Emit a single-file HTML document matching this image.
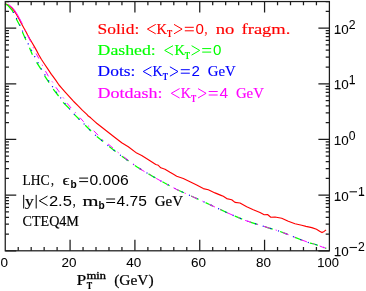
<!DOCTYPE html><html><head><meta charset="utf-8"><style>
html,body{margin:0;padding:0;background:#fff;}
svg{display:block;position:absolute;left:0;top:0;will-change:transform;opacity:0.999}
text{font-family:"Liberation Serif",serif;}
.n{font-family:"Liberation Sans",sans-serif;}
</style></head><body>
<svg width="366" height="291" viewBox="0 0 366 291">
<rect width="366" height="291" fill="#fff"/>
<path d="M5.0,3.7 L5.8,4.0 L8.2,5.1 L10.3,6.6 L12.4,8.7 L14.4,11.2 L16.5,14.5 L18.9,18.8 L21.4,23.5 L24.0,28.2 L26.5,32.7 L27.6,35.0 L29.9,39.1 L32.4,43.2 L34.8,47.4 L37.3,51.9 L38.9,55.0 L41.5,59.5 L44.8,64.5 L48.1,69.4 L51.4,74.4 L52.4,75.7 L55.7,80.2 L59.0,85.0 L61.7,88.1 L65.2,92.1 L69.3,96.7 L73.4,101.2 L74.2,102.0 L78.4,106.1 L82.5,110.4 L86.6,114.2 L88.3,116.0 L90.7,117.8 L95.7,122.4 L96.7,123.3 L105.0,129.7 L113.3,136.3 L121.7,142.7 L128.3,146.7 L136.7,153.1 L141.7,155.5 L150.0,160.8 L155.8,164.5 L158.3,165.3 L160.8,167.8 L165.0,169.2 L170.0,172.3 L173.5,174.3 L176.7,176.2 L183.3,178.5 L190.0,181.7 L196.7,185.0 L203.3,188.6 L208.3,189.8 L215.0,192.9 L221.0,195.4 L223.3,196.3 L226.7,198.6 L231.7,199.7 L235.0,202.4 L240.0,203.0 L246.7,206.7 L253.3,209.7 L260.0,212.5 L264.2,214.7 L267.5,214.5 L270.8,217.2 L275.0,217.0 L281.7,218.3 L288.3,221.3 L295.0,223.7 L301.7,225.3 L306.0,226.4 L311.8,227.6 L316.5,229.3 L320.0,231.4 L322.0,232.6 L324.1,231.4 L326.1,229.9" fill="none" stroke="#ff0000" stroke-width="1.15" stroke-linejoin="round"/>
<path d="M5.0,3.7 L8.2,5.8 L12.4,10.7 L13.2,12.4 M16.2,18.7 L19.9,25.7 M22.4,32.0 L25.6,39.2 L26.0,40.0 M29.5,47.8 L32.4,54.8 M36.6,62.4 L41.1,69.4 M44.6,75.8 L49.1,82.7 M53.2,89.2 L58.6,96.0 M63.1,102.4 L69.5,108.8 M74.2,114.4 L79.2,119.3 M85.2,125.2 L90.0,130.0 L91.1,131.0 M96.8,136.4 L103.1,141.5 M109.2,146.4 L113.3,149.7 L115.6,151.5 M121.8,156.3 L128.3,160.8 L128.5,161.0 M134.9,165.5 L136.7,166.8 L141.8,169.9 M148.5,173.9 L153.3,176.7 L155.6,178.0 M162.4,181.8 L168.3,185.0 L169.6,185.7 M176.5,189.4 L176.7,189.5 L184.0,192.7 M191.1,196.0 L193.3,197.0 L198.5,199.4 M205.6,202.6 L210.0,204.7 L213.0,206.1 M220.1,209.4 L226.7,212.5 L227.5,212.9 M234.7,216.1 L235.0,216.2 L242.2,219.2 M249.6,221.9 L251.7,222.6 L257.4,224.4 M264.8,226.7 L268.3,227.8 L272.7,229.1 M280.1,231.5 L285.0,233.3 L287.7,234.4 M295.0,237.4 L301.7,240.0 L302.6,240.3 M309.9,243.1 L310.1,243.2 L314.2,244.0 L317.8,245.3 M325.1,248.0 L326.3,248.4" fill="none" stroke="#00ff00" stroke-width="1.25"/>
<path d="M13.3,12.0 L13.6,12.4 L13.8,12.9 M16.4,18.0 L16.6,18.5 L16.8,19.0 M19.7,24.6 L19.9,25.1 L20.1,25.6 M22.3,30.6 L22.5,31.1 L22.7,31.6 M25.1,36.9 L25.3,37.4 L25.5,37.9 M28.0,43.4 L28.2,43.9 L28.5,44.4 M31.2,49.8 L31.5,50.3 L31.7,50.8 M34.5,56.1 L34.7,56.6 L35.0,57.1 M37.8,62.3 L38.1,62.8 L38.4,63.3 M41.1,68.5 L41.4,69.0 L41.7,69.5 M44.6,74.4 L44.9,74.9 L45.2,75.4 M48.4,80.4 L48.7,80.9 L49.0,81.4 M52.2,86.2 L52.5,86.7 L52.8,87.1 M56.2,91.8 L56.5,92.2 L56.8,92.6 M60.4,97.5 L60.7,97.9 L61.0,98.3 M64.7,103.1 L65.0,103.5 L65.4,103.9 M69.3,108.6 L69.7,109.0 L70.1,109.4 M73.8,113.8 L74.2,114.2 L74.6,114.6 M78.8,118.9 L79.2,119.3 L79.6,119.7 M83.7,123.6 L84.5,124.4 M89.3,129.3 L90.0,130.0 L90.1,130.1 M95.1,134.8 L95.9,135.6 M101.2,140.0 L102.1,140.7 M107.5,145.0 L108.3,145.7 M113.7,150.0 L114.6,150.7 M120.0,155.0 L120.0,155.0 L120.9,155.6 M126.5,159.6 L127.4,160.2 M133.1,164.2 L133.9,164.8 M139.7,168.6 L140.6,169.2 M146.5,172.8 L147.5,173.3 M153.5,176.8 L154.4,177.3 M160.4,180.7 L161.4,181.3 M167.5,184.5 L168.3,185.0 L168.4,185.1 M174.5,188.3 L175.5,188.8 M181.7,191.7 L182.7,192.2 M189.0,195.0 L190.0,195.5 M196.3,198.4 L197.3,198.8 M203.6,201.7 L204.6,202.2 M210.8,205.1 L211.8,205.6 M218.1,208.5 L218.3,208.6 L219.1,209.0 M225.3,211.9 L226.3,212.3 M232.6,215.1 L233.6,215.6 M240.0,218.3 L241.0,218.7 M247.4,221.1 L248.5,221.5 M255.0,223.6 L256.1,224.0 M262.7,226.0 L263.7,226.4 M270.3,228.4 L271.4,228.7 M278.0,230.8 L279.0,231.1 M285.5,233.5 L286.5,233.9 M292.9,236.5 L293.3,236.7 L293.9,236.9 M300.3,239.5 L301.3,239.9 M307.8,242.3 L308.8,242.7 M315.5,244.5 L316.5,244.8 M323.0,247.3 L324.0,247.6" fill="none" stroke="#0000ff" stroke-width="1.2"/>
<path d="M8.2,4.6 L8.8,4.8 L10.9,6.2 L13.0,8.3 L15.0,10.8 L17.1,14.1 L19.5,18.4 L22.0,23.2 L22.4,23.9 M25.1,29.7 L25.3,30.3 L25.6,30.9 M27.5,34.9 L27.7,35.3 L30.7,41.6 M33.1,47.1 L33.2,47.4 L33.6,48.3 M36.1,53.5 L38.9,58.6 M42.1,64.7 L42.4,65.3 L42.7,65.9 M45.5,71.0 L45.5,71.1 L48.4,76.3 M52.0,81.4 L52.4,81.9 L52.8,82.4 M55.8,87.2 L55.9,87.3 L59.4,92.1 L59.4,92.2 M63.0,97.4 L63.4,97.9 L63.8,98.4 M67.0,103.2 L67.0,103.2 L71.1,108.0 M75.1,112.1 L75.5,112.6 L75.9,113.1 M80.0,117.7 L83.7,121.8 M88.2,125.8 L89.2,126.7 M93.7,130.8 L95.0,132.0 L98.1,135.2 M102.3,139.5 L102.5,139.7 L103.3,140.3 M108.2,144.1 L110.0,145.5 L113.0,148.1 M117.6,152.0 L118.6,152.8 M123.5,156.6 L128.3,160.4 L128.3,160.4 M133.2,164.0 L134.2,164.8 M139.3,168.3 L144.5,171.6 M149.7,174.6 L150.8,175.3 M156.2,178.4 L160.0,180.5 L161.6,181.4 M166.9,184.2 L168.1,184.9 M173.5,187.8 L176.7,189.5 L179.1,190.6 M184.5,193.0 L185.0,193.2 L185.7,193.5 M191.4,196.1 L193.3,197.0 L197.0,198.7 M202.5,201.2 L203.7,201.7 M209.3,204.4 L210.0,204.7 L214.9,207.0 M220.3,209.5 L221.5,210.1 M227.1,212.7 L232.8,215.2 M238.3,217.6 L239.5,218.1 M245.2,220.4 L251.1,222.4 M256.8,224.2 L258.1,224.6 M264.0,226.4 L268.3,227.8 L269.9,228.3 M275.7,230.0 L276.7,230.3 L276.9,230.4 M282.7,232.5 L285.0,233.3 L288.5,234.7 M294.1,237.0 L295.3,237.5 M301.0,239.7 L301.7,240.0 L306.0,241.5 L306.9,241.9 M312.6,243.7 L313.8,243.9 M319.7,246.0 L322.4,247.1 L325.5,248.1" fill="none" stroke="#ff00ff" stroke-width="1.0"/>
<g stroke="#1c1c1c" stroke-width="1.25" fill="none">
<rect x="5.25" y="1.55" width="324.15" height="249.25"/>
<path d="M18.22,250.8 v-3.7 M18.22,1.55 v3.7"/>
<path d="M31.18,250.8 v-3.7 M31.18,1.55 v3.7"/>
<path d="M44.15,250.8 v-3.7 M44.15,1.55 v3.7"/>
<path d="M57.11,250.8 v-3.7 M57.11,1.55 v3.7"/>
<path d="M70.08,250.8 v-11.0 M70.08,1.55 v11.0"/>
<path d="M83.05,250.8 v-3.7 M83.05,1.55 v3.7"/>
<path d="M96.01,250.8 v-3.7 M96.01,1.55 v3.7"/>
<path d="M108.98,250.8 v-3.7 M108.98,1.55 v3.7"/>
<path d="M121.94,250.8 v-3.7 M121.94,1.55 v3.7"/>
<path d="M134.91,250.8 v-11.0 M134.91,1.55 v11.0"/>
<path d="M147.88,250.8 v-3.7 M147.88,1.55 v3.7"/>
<path d="M160.84,250.8 v-3.7 M160.84,1.55 v3.7"/>
<path d="M173.81,250.8 v-3.7 M173.81,1.55 v3.7"/>
<path d="M186.77,250.8 v-3.7 M186.77,1.55 v3.7"/>
<path d="M199.74,250.8 v-11.0 M199.74,1.55 v11.0"/>
<path d="M212.71,250.8 v-3.7 M212.71,1.55 v3.7"/>
<path d="M225.67,250.8 v-3.7 M225.67,1.55 v3.7"/>
<path d="M238.64,250.8 v-3.7 M238.64,1.55 v3.7"/>
<path d="M251.60,250.8 v-3.7 M251.60,1.55 v3.7"/>
<path d="M264.57,250.8 v-11.0 M264.57,1.55 v11.0"/>
<path d="M277.54,250.8 v-3.7 M277.54,1.55 v3.7"/>
<path d="M290.50,250.8 v-3.7 M290.50,1.55 v3.7"/>
<path d="M303.47,250.8 v-3.7 M303.47,1.55 v3.7"/>
<path d="M316.43,250.8 v-3.7 M316.43,1.55 v3.7"/>
<path d="M5.25,250.80 h11.0 M329.4,250.80 h-11.0"/>
<path d="M5.25,234.04 h3.7 M329.4,234.04 h-3.7"/>
<path d="M5.25,224.23 h3.7 M329.4,224.23 h-3.7"/>
<path d="M5.25,217.28 h3.7 M329.4,217.28 h-3.7"/>
<path d="M5.25,211.88 h3.7 M329.4,211.88 h-3.7"/>
<path d="M5.25,207.47 h3.7 M329.4,207.47 h-3.7"/>
<path d="M5.25,203.74 h3.7 M329.4,203.74 h-3.7"/>
<path d="M5.25,200.52 h3.7 M329.4,200.52 h-3.7"/>
<path d="M5.25,197.67 h3.7 M329.4,197.67 h-3.7"/>
<path d="M5.25,195.12 h11.0 M329.4,195.12 h-11.0"/>
<path d="M5.25,178.36 h3.7 M329.4,178.36 h-3.7"/>
<path d="M5.25,168.55 h3.7 M329.4,168.55 h-3.7"/>
<path d="M5.25,161.60 h3.7 M329.4,161.60 h-3.7"/>
<path d="M5.25,156.20 h3.7 M329.4,156.20 h-3.7"/>
<path d="M5.25,151.79 h3.7 M329.4,151.79 h-3.7"/>
<path d="M5.25,148.06 h3.7 M329.4,148.06 h-3.7"/>
<path d="M5.25,144.84 h3.7 M329.4,144.84 h-3.7"/>
<path d="M5.25,141.99 h3.7 M329.4,141.99 h-3.7"/>
<path d="M5.25,139.44 h11.0 M329.4,139.44 h-11.0"/>
<path d="M5.25,122.68 h3.7 M329.4,122.68 h-3.7"/>
<path d="M5.25,112.87 h3.7 M329.4,112.87 h-3.7"/>
<path d="M5.25,105.92 h3.7 M329.4,105.92 h-3.7"/>
<path d="M5.25,100.52 h3.7 M329.4,100.52 h-3.7"/>
<path d="M5.25,96.11 h3.7 M329.4,96.11 h-3.7"/>
<path d="M5.25,92.38 h3.7 M329.4,92.38 h-3.7"/>
<path d="M5.25,89.16 h3.7 M329.4,89.16 h-3.7"/>
<path d="M5.25,86.31 h3.7 M329.4,86.31 h-3.7"/>
<path d="M5.25,83.76 h11.0 M329.4,83.76 h-11.0"/>
<path d="M5.25,67.00 h3.7 M329.4,67.00 h-3.7"/>
<path d="M5.25,57.19 h3.7 M329.4,57.19 h-3.7"/>
<path d="M5.25,50.24 h3.7 M329.4,50.24 h-3.7"/>
<path d="M5.25,44.84 h3.7 M329.4,44.84 h-3.7"/>
<path d="M5.25,40.43 h3.7 M329.4,40.43 h-3.7"/>
<path d="M5.25,36.70 h3.7 M329.4,36.70 h-3.7"/>
<path d="M5.25,33.48 h3.7 M329.4,33.48 h-3.7"/>
<path d="M5.25,30.63 h3.7 M329.4,30.63 h-3.7"/>
<path d="M5.25,28.08 h11.0 M329.4,28.08 h-11.0"/>
<path d="M5.25,11.32 h3.7 M329.4,11.32 h-3.7"/>
<path d="M5.25,1.51 h3.7 M329.4,1.51 h-3.7"/>
</g>
<text x="4.2" y="267.1" font-size="13" fill="#000" class="n" textLength="7.5" lengthAdjust="spacingAndGlyphs" text-anchor="middle" stroke="#000" stroke-width="0.05">0</text>
<text x="69.0" y="267.1" font-size="13" fill="#000" class="n" textLength="15.0" lengthAdjust="spacingAndGlyphs" text-anchor="middle" stroke="#000" stroke-width="0.05">20</text>
<text x="133.8" y="267.1" font-size="13" fill="#000" class="n" textLength="15.0" lengthAdjust="spacingAndGlyphs" text-anchor="middle" stroke="#000" stroke-width="0.05">40</text>
<text x="198.6" y="267.1" font-size="13" fill="#000" class="n" textLength="15.0" lengthAdjust="spacingAndGlyphs" text-anchor="middle" stroke="#000" stroke-width="0.05">60</text>
<text x="263.5" y="267.1" font-size="13" fill="#000" class="n" textLength="15.0" lengthAdjust="spacingAndGlyphs" text-anchor="middle" stroke="#000" stroke-width="0.05">80</text>
<text x="328.1" y="267.1" font-size="13" fill="#000" class="n" textLength="21.6" lengthAdjust="spacingAndGlyphs" text-anchor="middle" stroke="#000" stroke-width="0.05">100</text>
<path d="M318.3,266.6 H323.5" stroke="#111" stroke-width="1.0"/>
<text x="333.7" y="33.6" font-size="13" fill="#000" class="n" textLength="14.9" lengthAdjust="spacingAndGlyphs" stroke="#000" stroke-width="0.05">10</text>
<path d="M335.3,33.1 H340.5" stroke="#111" stroke-width="1.0"/>
<text x="348.7" y="28.6" font-size="12.2" fill="#000" class="n" stroke="#000" stroke-width="0.05">2</text>
<text x="333.7" y="89.3" font-size="13" fill="#000" class="n" textLength="14.9" lengthAdjust="spacingAndGlyphs" stroke="#000" stroke-width="0.05">10</text>
<path d="M335.3,88.8 H340.5" stroke="#111" stroke-width="1.0"/>
<path d="M350.0,83.8 H354.7" stroke="#111" stroke-width="1.0"/>
<text x="348.7" y="84.3" font-size="12.2" fill="#000" class="n" stroke="#000" stroke-width="0.05">1</text>
<text x="333.7" y="144.9" font-size="13" fill="#000" class="n" textLength="14.9" lengthAdjust="spacingAndGlyphs" stroke="#000" stroke-width="0.05">10</text>
<path d="M335.3,144.4 H340.5" stroke="#111" stroke-width="1.0"/>
<text x="348.7" y="139.9" font-size="12.2" fill="#000" class="n" stroke="#000" stroke-width="0.05">0</text>
<text x="333.7" y="200.6" font-size="13" fill="#000" class="n" textLength="14.9" lengthAdjust="spacingAndGlyphs" stroke="#000" stroke-width="0.05">10</text>
<path d="M335.3,200.1 H340.5" stroke="#111" stroke-width="1.0"/>
<path d="M359.3,195.1 H364.0" stroke="#111" stroke-width="1.0"/>
<path d="M349.5,191.8 H357.0" stroke="#111" stroke-width="1.1"/>
<text x="358.0" y="195.6" font-size="12.2" fill="#000" class="n" stroke="#000" stroke-width="0.05">1</text>
<text x="333.7" y="256.3" font-size="13" fill="#000" class="n" textLength="14.9" lengthAdjust="spacingAndGlyphs" stroke="#000" stroke-width="0.05">10</text>
<path d="M335.3,255.8 H340.5" stroke="#111" stroke-width="1.0"/>
<path d="M349.5,247.5 H357.0" stroke="#111" stroke-width="1.1"/>
<text x="358.0" y="251.3" font-size="12.2" fill="#000" class="n" stroke="#000" stroke-width="0.05">2</text>
<text x="97.6" y="33.8" font-size="15.5" fill="#ff0000" textLength="41.7" lengthAdjust="spacingAndGlyphs" stroke="#ff0000" stroke-width="0.15">Solid:</text>
<path d="M155.70,24.40 L147.40,29.10 L155.70,33.80" fill="none" stroke="#ff0000" stroke-width="1.0"/>
<text x="156.5" y="33.8" font-size="15.5" fill="#ff0000" textLength="10.5" lengthAdjust="spacingAndGlyphs" stroke="#ff0000" stroke-width="0.15">K</text>
<text x="167.0" y="37.3" font-size="11" fill="#ff0000" textLength="5.2" lengthAdjust="spacingAndGlyphs" font-weight="bold" stroke="#ff0000" stroke-width="0.15">T</text>
<path d="M174.00,24.40 L182.10,29.10 L174.00,33.80" fill="none" stroke="#ff0000" stroke-width="1.0"/>
<path d="M184.80,27.30 h9.0 M184.80,30.80 h9.0" fill="none" stroke="#ff0000" stroke-width="1.0"/>
<text x="195.4" y="33.8" font-size="14.3" fill="#ff0000" class="n" textLength="8.4" lengthAdjust="spacingAndGlyphs">0</text>
<text x="204.6" y="33.8" font-size="15.5" fill="#ff0000" textLength="2.9" lengthAdjust="spacingAndGlyphs" stroke="#ff0000" stroke-width="0.15">,</text>
<text x="215.8" y="33.8" font-size="15.5" fill="#ff0000" textLength="18.6" lengthAdjust="spacingAndGlyphs" stroke="#ff0000" stroke-width="0.15">no</text>
<text x="241.6" y="33.8" font-size="15.5" fill="#ff0000" textLength="48.8" lengthAdjust="spacingAndGlyphs" stroke="#ff0000" stroke-width="0.15">fragm.</text>
<text x="97.6" y="55.1" font-size="15.5" fill="#00ff00" textLength="58.2" lengthAdjust="spacingAndGlyphs" stroke="#00ff00" stroke-width="0.15">Dashed:</text>
<path d="M173.00,45.70 L164.70,50.40 L173.00,55.10" fill="none" stroke="#00ff00" stroke-width="1.0"/>
<text x="174.5" y="55.1" font-size="15.5" fill="#00ff00" textLength="10.5" lengthAdjust="spacingAndGlyphs" stroke="#00ff00" stroke-width="0.15">K</text>
<text x="184.8" y="58.6" font-size="11" fill="#00ff00" textLength="5.2" lengthAdjust="spacingAndGlyphs" font-weight="bold" stroke="#00ff00" stroke-width="0.15">T</text>
<path d="M191.60,45.70 L199.70,50.40 L191.60,55.10" fill="none" stroke="#00ff00" stroke-width="1.0"/>
<path d="M202.20,48.60 h9.0 M202.20,52.10 h9.0" fill="none" stroke="#00ff00" stroke-width="1.0"/>
<text x="212.9" y="55.1" font-size="14.3" fill="#00ff00" class="n" textLength="8.4" lengthAdjust="spacingAndGlyphs">0</text>
<text x="97.6" y="76.2" font-size="15.5" fill="#0000ff" textLength="37.8" lengthAdjust="spacingAndGlyphs" stroke="#0000ff" stroke-width="0.15">Dots:</text>
<path d="M151.50,66.80 L143.20,71.50 L151.50,76.20" fill="none" stroke="#0000ff" stroke-width="1.0"/>
<text x="152.6" y="76.2" font-size="15.5" fill="#0000ff" textLength="10.2" lengthAdjust="spacingAndGlyphs" stroke="#0000ff" stroke-width="0.15">K</text>
<text x="162.7" y="79.7" font-size="11" fill="#0000ff" textLength="5.2" lengthAdjust="spacingAndGlyphs" font-weight="bold" stroke="#0000ff" stroke-width="0.15">T</text>
<path d="M169.90,66.80 L178.00,71.50 L169.90,76.20" fill="none" stroke="#0000ff" stroke-width="1.0"/>
<path d="M180.80,69.70 h9.0 M180.80,73.20 h9.0" fill="none" stroke="#0000ff" stroke-width="1.0"/>
<text x="191.6" y="76.2" font-size="14.3" fill="#0000ff" class="n" textLength="8.4" lengthAdjust="spacingAndGlyphs">2</text>
<text x="207.8" y="76.2" font-size="15.5" fill="#0000ff" textLength="28.0" lengthAdjust="spacingAndGlyphs" stroke="#0000ff" stroke-width="0.15">GeV</text>
<text x="97.6" y="98.0" font-size="15.5" fill="#ff00ff" textLength="65.0" lengthAdjust="spacingAndGlyphs" stroke="#ff00ff" stroke-width="0.15">Dotdash:</text>
<path d="M179.60,88.60 L171.30,93.30 L179.60,98.00" fill="none" stroke="#ff00ff" stroke-width="1.0"/>
<text x="180.7" y="98.0" font-size="15.5" fill="#ff00ff" textLength="10.3" lengthAdjust="spacingAndGlyphs" stroke="#ff00ff" stroke-width="0.15">K</text>
<text x="190.9" y="101.5" font-size="11" fill="#ff00ff" textLength="5.2" lengthAdjust="spacingAndGlyphs" font-weight="bold" stroke="#ff00ff" stroke-width="0.15">T</text>
<path d="M198.00,88.60 L206.10,93.30 L198.00,98.00" fill="none" stroke="#ff00ff" stroke-width="1.0"/>
<path d="M208.70,91.50 h9.0 M208.70,95.00 h9.0" fill="none" stroke="#ff00ff" stroke-width="1.0"/>
<text x="219.4" y="98.0" font-size="14.3" fill="#ff00ff" class="n" textLength="8.6" lengthAdjust="spacingAndGlyphs">4</text>
<text x="235.9" y="98.0" font-size="15.5" fill="#ff00ff" textLength="28.0" lengthAdjust="spacingAndGlyphs" stroke="#ff00ff" stroke-width="0.15">GeV</text>
<text x="22.6" y="184.6" font-size="15.5" fill="#000" textLength="27.0" lengthAdjust="spacingAndGlyphs" stroke="#000" stroke-width="0.2">LHC</text>
<text x="51.0" y="184.6" font-size="15.5" fill="#000" textLength="2.9" lengthAdjust="spacingAndGlyphs" stroke="#000" stroke-width="0.2">,</text>
<text x="62.5" y="184.6" font-size="15.5" fill="#000" textLength="6.9" lengthAdjust="spacingAndGlyphs" stroke="#000" stroke-width="0.2">ϵ</text>
<text x="70.5" y="187.9" font-size="10.2" fill="#000" class="n" textLength="6.2" lengthAdjust="spacingAndGlyphs" font-weight="bold" stroke="#000" stroke-width="0.05">b</text>
<path d="M79.20,178.10 h8.9 M79.20,181.60 h8.9" fill="none" stroke="#000" stroke-width="1.0"/>
<text x="89.4" y="184.6" font-size="14.3" fill="#000" class="n" textLength="39.3" lengthAdjust="spacingAndGlyphs">0.006</text>
<path d="M23.70,194.90 V208.50" fill="none" stroke="#000" stroke-width="1.0"/>
<text x="24.9" y="205.5" font-size="15.5" fill="#000" textLength="8.8" lengthAdjust="spacingAndGlyphs" stroke="#000" stroke-width="0.2">y</text>
<path d="M36.20,194.90 V208.50" fill="none" stroke="#000" stroke-width="1.0"/>
<path d="M47.50,196.10 L39.30,200.80 L47.50,205.50" fill="none" stroke="#000" stroke-width="1.0"/>
<text x="48.9" y="205.5" font-size="14.3" fill="#000" class="n" textLength="23.0" lengthAdjust="spacingAndGlyphs">2.5</text>
<text x="72.8" y="205.5" font-size="15.5" fill="#000" textLength="2.9" lengthAdjust="spacingAndGlyphs" stroke="#000" stroke-width="0.2">,</text>
<text x="82.4" y="205.5" font-size="15.5" fill="#000" textLength="16.0" lengthAdjust="spacingAndGlyphs" stroke="#000" stroke-width="0.2">m</text>
<text x="98.4" y="208.8" font-size="10.2" fill="#000" class="n" textLength="6.2" lengthAdjust="spacingAndGlyphs" font-weight="bold" stroke="#000" stroke-width="0.05">b</text>
<path d="M106.20,199.00 h8.9 M106.20,202.50 h8.9" fill="none" stroke="#000" stroke-width="1.0"/>
<text x="116.6" y="205.5" font-size="14.3" fill="#000" class="n" textLength="30.3" lengthAdjust="spacingAndGlyphs">4.75</text>
<text x="154.8" y="205.5" font-size="15.5" fill="#000" textLength="28.2" lengthAdjust="spacingAndGlyphs" stroke="#000" stroke-width="0.2">GeV</text>
<text x="22.5" y="226.0" font-size="15.5" fill="#000" textLength="56.4" lengthAdjust="spacingAndGlyphs" stroke="#000" stroke-width="0.2">CTEQ4M</text>
<text x="76.5" y="285.2" font-size="15.5" fill="#000" textLength="9.8" lengthAdjust="spacingAndGlyphs" stroke="#000" stroke-width="0.2">P</text>
<text x="86.7" y="279.0" font-size="11.2" fill="#000" textLength="19.2" lengthAdjust="spacingAndGlyphs" stroke="#000" stroke-width="0.4">min</text>
<text x="86.7" y="288.9" font-size="10" fill="#000" textLength="5.4" lengthAdjust="spacingAndGlyphs" font-weight="bold" stroke="#000" stroke-width="0.2">T</text>
<text x="114.2" y="285.2" font-size="15.5" fill="#000" textLength="39.5" lengthAdjust="spacingAndGlyphs" stroke="#000" stroke-width="0.2">(GeV)</text>
</svg></body></html>
